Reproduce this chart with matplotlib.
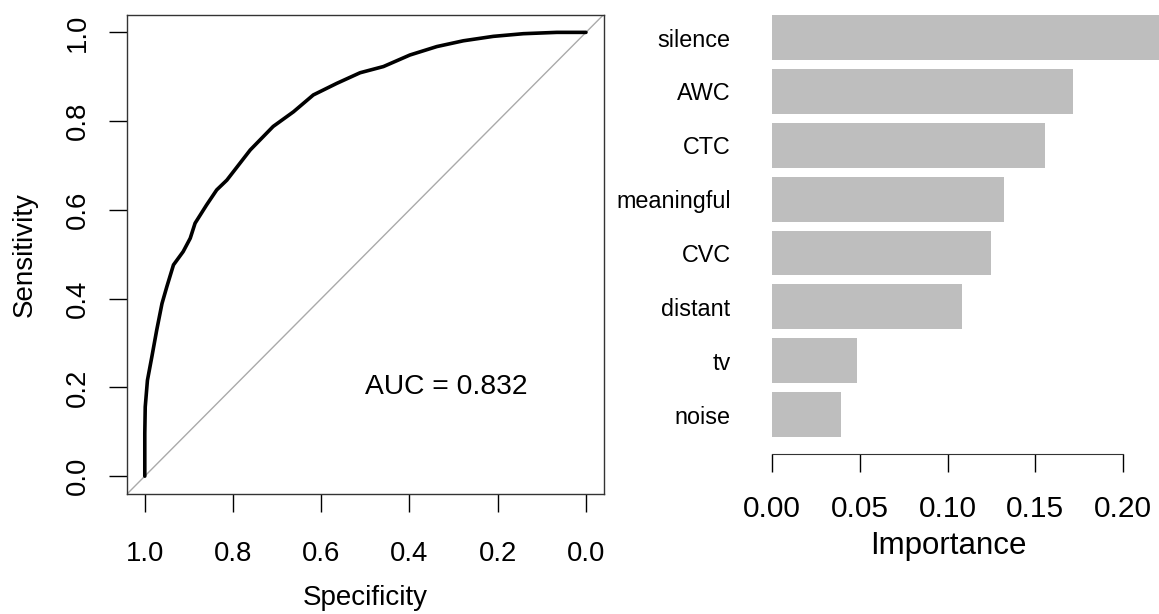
import matplotlib
matplotlib.use("Agg")
import matplotlib.pyplot as plt

plt.rcParams['font.family'] = ['Liberation Sans', 'DejaVu Sans']

# ROC curve
specificity = [1.000, 1.000, 0.999, 0.994, 0.984, 0.973, 0.961, 0.950, 0.935, 0.913,
               0.897, 0.886, 0.860, 0.837, 0.814, 0.761, 0.709, 0.663, 0.618, 0.565,
               0.512, 0.459, 0.399, 0.338, 0.278, 0.210, 0.142, 0.066, 0.000]
sensitivity = [0.000, 0.096, 0.156, 0.216, 0.269, 0.329, 0.389, 0.427, 0.476, 0.506,
               0.536, 0.570, 0.611, 0.645, 0.667, 0.735, 0.788, 0.821, 0.859, 0.885,
               0.909, 0.923, 0.949, 0.968, 0.981, 0.991, 0.997, 1.000, 1.000]
auc_label = "AUC = 0.832"
roc_ticks = [1.0, 0.8, 0.6, 0.4, 0.2, 0.0]

# variable importance
features = ["noise", "tv", "distant", "CVC", "meaningful", "CTC", "AWC", "silence"]
importance = [0.0392, 0.0485, 0.1080, 0.1249, 0.1320, 0.1557, 0.1712, 0.2210]
imp_ticks = [0.00, 0.05, 0.10, 0.15, 0.20]

fig = plt.figure(figsize=(11.59, 6.14), dpi=100)
fig.patch.set_facecolor('white')

# --- left: ROC ---
ax1 = fig.add_axes([0.1097, 0.1956, 0.4111, 0.7806])
ax1.plot(specificity, sensitivity, color='black', lw=2.6,
         solid_joinstyle='round', solid_capstyle='round')
ax1.axline((1, 0), (0, 1), color='#AAAAAA', lw=1.0, zorder=0)
ax1.set_xlim(1.04, -0.04)
ax1.set_ylim(-0.04, 1.04)
ax1.set_xticks(roc_ticks)
ax1.set_yticks(roc_ticks[::-1])
ax1.set_xticklabels([f"{t:.1f}" for t in roc_ticks])
ax1.set_yticklabels([f"{t:.1f}" for t in roc_ticks[::-1]], rotation=90, va='center')
ax1.tick_params(axis='both', direction='out', length=12.8, width=1.0, labelsize=19.8)
ax1.tick_params(axis='x', pad=21)
ax1.tick_params(axis='y', pad=13)
for s in ax1.spines.values():
    s.set_linewidth(1.0)
    s.set_color('#333333')
ax1.set_xlabel("Specificity", fontsize=20)
ax1.set_ylabel("Sensitivity", fontsize=20)
ax1.xaxis.set_label_coords(0.5, -0.217)
ax1.xaxis.label.set_verticalalignment('center')
ax1.yaxis.set_label_coords(-0.215, 0.5)
ax1.yaxis.label.set_verticalalignment('center')
ax1.text(0.5, 0.2, auc_label, fontsize=20.3, ha='left', va='center')

# --- right: importance bars ---
ax2 = fig.add_axes([0.6663, 0.2614, 0.3337, 0.7386])
ax2.barh(range(len(features)), importance, height=0.833, color='#BEBEBE',
         edgecolor='none')
ax2.set_xlim(0, 0.2205)
ax2.set_ylim(-0.722, 7.698)
ax2.set_yticks(range(len(features)))
ax2.set_yticklabels(features, fontsize=16.8)
ax2.tick_params(axis='y', length=0, pad=30)
ax2.set_xticks(imp_ticks)
ax2.set_xticklabels([f"{t:.2f}" for t in imp_ticks], fontsize=21.5)
ax2.tick_params(axis='x', direction='out', length=12.6, width=1.0, pad=17)
for side in ['top', 'right', 'left']:
    ax2.spines[side].set_visible(False)
ax2.spines['bottom'].set_bounds(0, 0.2)
ax2.spines['bottom'].set_color('#333333')
ax2.set_xlabel("Importance", fontsize=22.5)
ax2.xaxis.set_label_coords(0.4566, -0.2035)
ax2.xaxis.label.set_verticalalignment('center')

fig.savefig("out.png", dpi=100)
